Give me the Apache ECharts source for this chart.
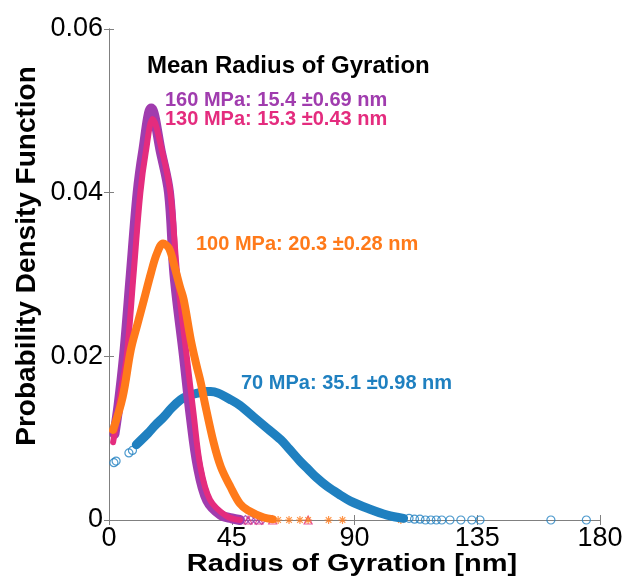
<!DOCTYPE html>
<html><head><meta charset="utf-8">
<script src="https://cdn.jsdelivr.net/npm/echarts@6/dist/echarts.min.js"></script>
<style>html,body{margin:0;padding:0;background:#fff}#c{width:629px;height:583px}</style>
</head><body><div id="c"></div>
<script>
// axis ticks
var xTicks = [0, 45, 90, 135, 180];
var yTicks = [0, 0.02, 0.04, 0.06];

// 70 MPa (blue circles)
var x70head = [1.8, 2.6, 7.3, 8.6];
var y70head = [0.0070, 0.0072, 0.0082, 0.0085];
var x70 = [10, 14.3, 17, 20.1, 23, 26.3, 29, 32.6, 35, 37.3, 40, 44.6, 48, 53, 58, 63, 66, 70, 73, 76, 80, 85, 88.5, 95, 102, 108];
var y70 = [0.0092, 0.0106, 0.0116, 0.0126, 0.0137, 0.0147, 0.0152, 0.0155, 0.0157, 0.0157, 0.0155, 0.0147, 0.0140, 0.0126, 0.0112, 0.0098, 0.0087, 0.0072, 0.0062, 0.0052, 0.0041, 0.0030, 0.0023, 0.0014, 0.0006, 0.0002];
var x70tail = [110, 112, 114, 116, 118, 120, 122, 125, 129, 133, 136, 162, 175];
var y70tail = [0.0002, 0.0001, 0.0001, 0, 0, 0, 0, 0, 0, 0, 0, 0, 0];

// 100 MPa (orange asterisks)
var x100 = [1.5, 5, 8, 10.5, 12.8, 15.4, 17.5, 19.8, 22, 24, 26, 27.4, 30, 32, 33.7, 35, 38.4, 41, 44.6, 48, 50.9, 56.7, 60];
var y100 = [0.0110, 0.0150, 0.0208, 0.0240, 0.0269, 0.0302, 0.0325, 0.0338, 0.0332, 0.0310, 0.0285, 0.0269, 0.0220, 0.0190, 0.0167, 0.0145, 0.0094, 0.0065, 0.0040, 0.0020, 0.0012, 0.0003, 0.0001];
var x100tail = [62, 66, 70, 73, 80.5, 85.6, 107];
var y100tail = [0, 0, 0, 0, 0, 0, 0];

// 130 MPa (pink triangles)
var x130 = [1.5, 2.5, 4.5, 6.5, 9, 11.5, 13.5, 16, 19.5, 22.5, 25, 28.5, 31, 33.5, 37, 43, 48];
var y130 = [0.0095, 0.0115, 0.0160, 0.0200, 0.0300, 0.0400, 0.0450, 0.0490, 0.0450, 0.0400, 0.0300, 0.0200, 0.0130, 0.0065, 0.0025, 0.0005, 0];
var x130tail = [51, 55, 60, 73];
var y130tail = [0, 0, 0, 0];

// 160 MPa (purple diamonds)
var x160 = [2, 3.5, 5.5, 8, 10.5, 12.5, 15.5, 19, 22, 24, 27.5, 30, 32.6, 36, 41, 45, 48];
var y160 = [0.0105, 0.0140, 0.0200, 0.0300, 0.0400, 0.0450, 0.0503, 0.0450, 0.0400, 0.0300, 0.0200, 0.0126, 0.0065, 0.0024, 0.0006, 0.0002, 0];
var x160tail = [50, 52, 54, 56];
var y160tail = [0, 0, 0, 0];

var cBlue = '#1f80c0', cOrange = '#ff7a1a', cPink = '#e42c7e', cPurple = '#a03cae';
var star = 'path://M0,-5L0,5M-5,0L5,0M-3.5,-3.5L3.5,3.5M-3.5,3.5L3.5,-3.5';

function pairs(xs, ys){ return xs.map(function(v,i){ return [v, ys[i]]; }); }

var font = 'Liberation Sans, Arial, sans-serif';
var chart = echarts.init(document.getElementById('c'));
var axisLine = {show: true, lineStyle: {color: '#808080', width: 1}};
var tick = {show: true, inside: true, length: 5, lineStyle: {color: '#808080'}};
function lineS(xs, ys, color, w){
  return {type: 'line', data: pairs(xs, ys), smooth: 0.35, symbol: 'none',
    lineStyle: {color: color, width: w, join: 'round', cap: 'round'}};
}
function scat(xs, ys, symbol, color, size){
  return {type: 'scatter', data: pairs(xs, ys), symbol: symbol, symbolSize: size,
    itemStyle: {color: 'none', borderColor: color, borderWidth: 1.2}};
}
chart.setOption({
  animation: false,
  backgroundColor: '#fff',
  grid: {left: 109, right: 29, top: 29, bottom: 63},
  xAxis: [{
    type: 'value', min: xTicks[0], max: xTicks[xTicks.length-1], interval: 45,
    axisLine: axisLine, axisTick: tick, splitLine: {show: false},
    axisLabel: {color: '#000', fontSize: 27, fontFamily: font, margin: 5}
  }, {
    type: 'value', position: 'top', min: 0, max: 180, interval: 45,
    axisLine: axisLine, axisTick: tick, axisLabel: {show: false}, splitLine: {show: false}
  }],
  yAxis: [{
    type: 'value', min: yTicks[0], max: yTicks[yTicks.length-1], interval: 0.02,
    axisLine: axisLine, axisTick: tick, splitLine: {show: false},
    axisLabel: {color: '#000', fontSize: 27, fontFamily: font, margin: 6,
      formatter: function(v){ return v === 0 ? '0' : v.toFixed(2); }}
  }, {
    type: 'value', position: 'right', min: 0, max: 0.06, interval: 0.02,
    axisLine: axisLine, axisTick: tick, axisLabel: {show: false}, splitLine: {show: false}
  }],
  series: [
    lineS(x70, y70, cBlue, 9),
    scat(x70head, y70head, 'circle', cBlue, 8),
    scat(x70tail, y70tail, 'circle', cBlue, 8),
    lineS(x160, y160, cPurple, 10),
    scat(x160tail, y160tail, 'diamond', cPurple, 9),
    lineS(x130, y130, cPink, 6),
    scat(x130tail, y130tail, 'triangle', cPink, 8),
    lineS(x100, y100, cOrange, 8),
    scat(x100tail, y100tail, star, cOrange, 8)
  ],
  graphic: [
    {type: 'text', x: 27, y: 256, rotation: Math.PI / 2,
      style: {text: 'Probability Density Function', fill: '#000', font: 'bold 28px ' + font, align: 'center', verticalAlign: 'middle'}},
    {type: 'text', x: 352, y: 564, scaleY: 0.84,
      style: {text: 'Radius of Gyration [nm]', fill: '#000', font: 'bold 29px ' + font, align: 'center', verticalAlign: 'middle'}},
    {type: 'text', left: 147, top: 54, style: {text: 'Mean Radius of Gyration', fill: '#000', font: 'bold 24px ' + font}},
    {type: 'text', left: 165, top: 90, style: {text: '160 MPa: 15.4 \u00b10.69 nm', fill: cPurple, font: 'bold 20px ' + font}},
    {type: 'text', left: 165, top: 109, style: {text: '130 MPa: 15.3 \u00b10.43 nm', fill: cPink, font: 'bold 20px ' + font}},
    {type: 'text', left: 196, top: 234, style: {text: '100 MPa: 20.3 \u00b10.28 nm', fill: cOrange, font: 'bold 20px ' + font}},
    {type: 'text', left: 241, top: 373, style: {text: '70 MPa: 35.1 \u00b10.98 nm', fill: cBlue, font: 'bold 20px ' + font}}
  ]
});
</script></body></html>
